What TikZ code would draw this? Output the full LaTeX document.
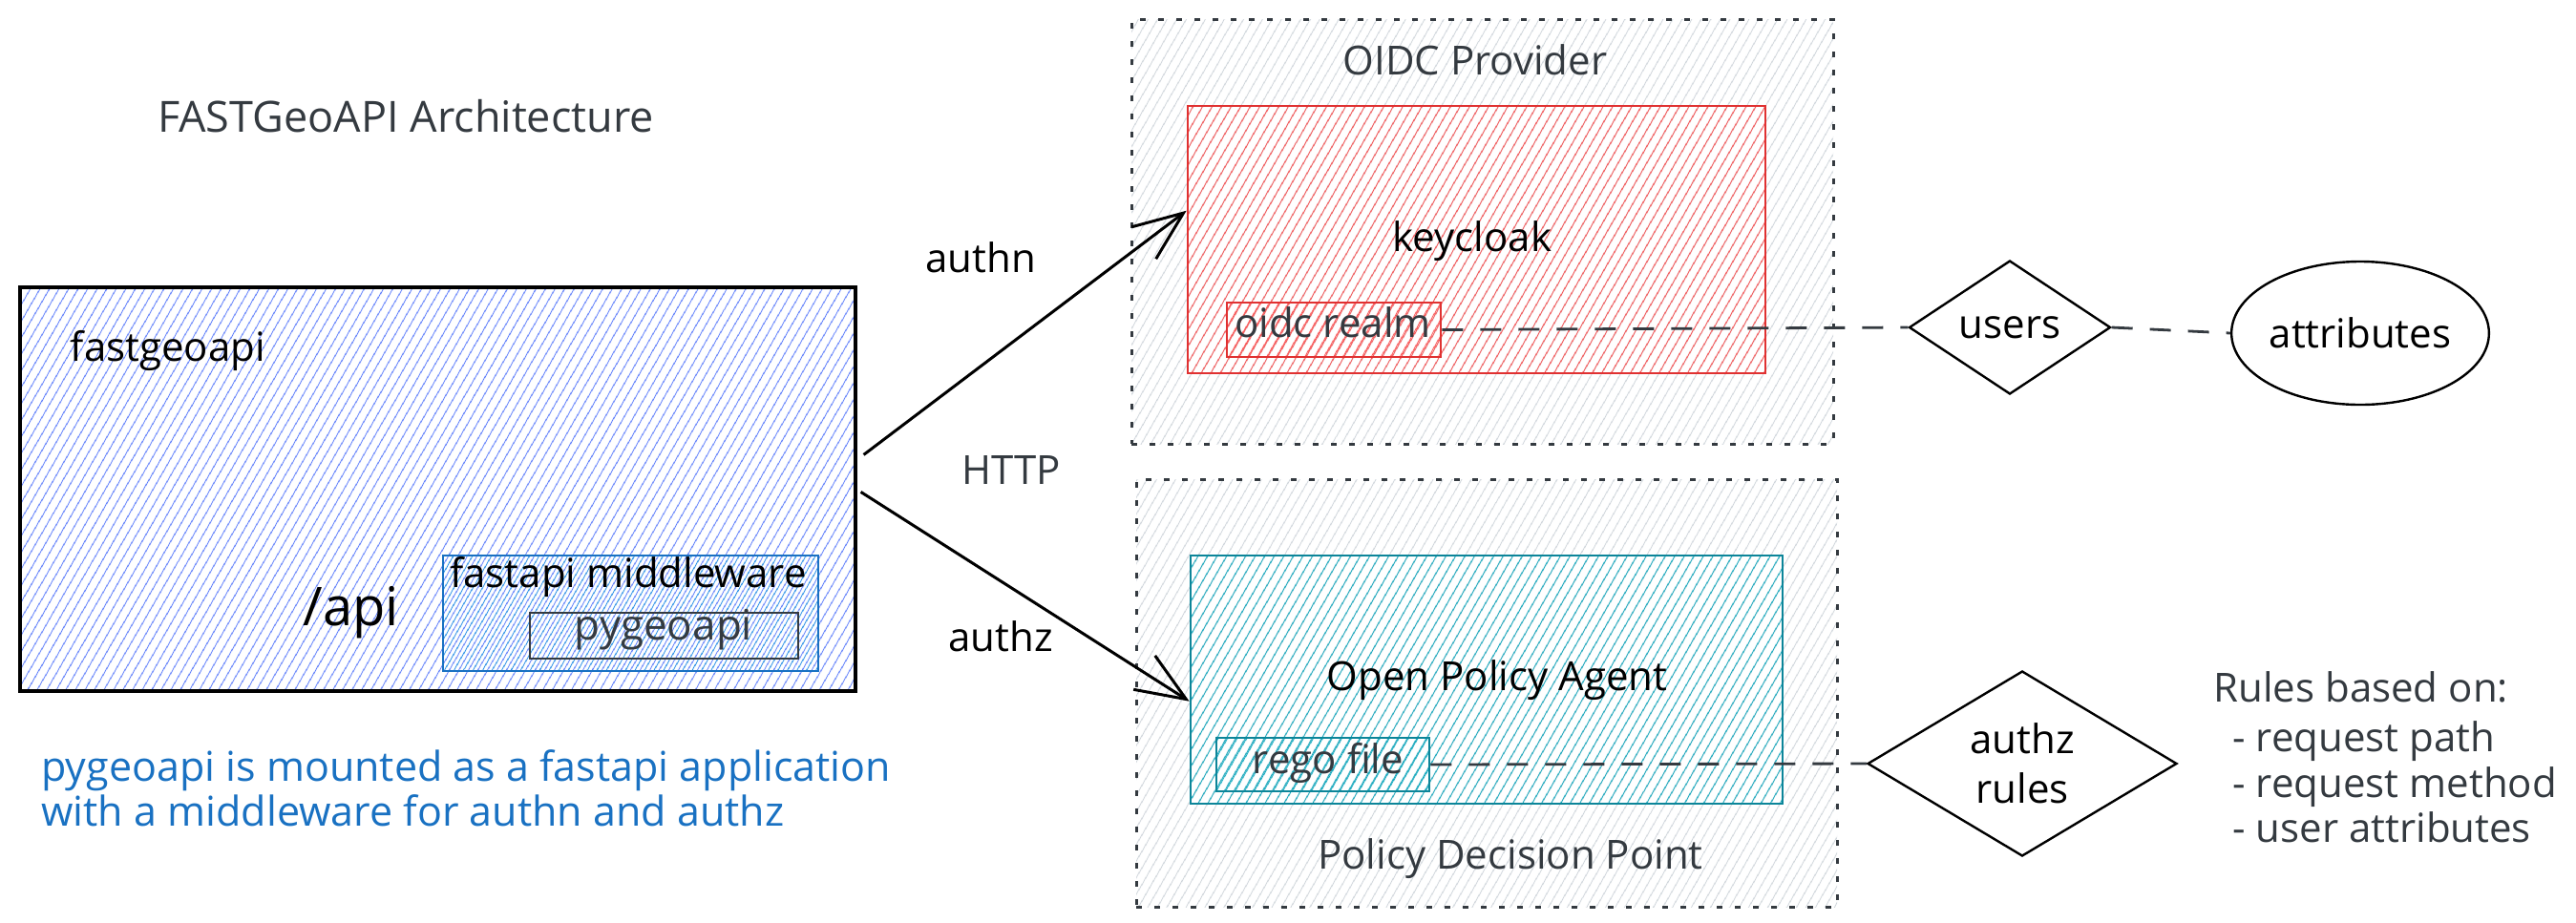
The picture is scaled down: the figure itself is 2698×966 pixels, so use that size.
\documentclass[tikz,border=0pt]{standalone}
\usepackage{fontspec}
\setmainfont{Open Sans}
\usetikzlibrary{patterns.meta,arrows.meta,fit,shapes.geometric,calc}
\definecolor{dgray}{HTML}{343A40}
\definecolor{indigoh}{HTML}{5C7CFA}
\definecolor{blues}{HTML}{1971C2}
\definecolor{blueh}{HTML}{228BE6}
\definecolor{grayh}{HTML}{CED4DA}
\definecolor{reds}{HTML}{E03131}
\definecolor{redh}{HTML}{FA5252}
\definecolor{teals}{HTML}{0C8599}
\definecolor{tealh}{HTML}{15AABF}
\begin{document}
\begin{tikzpicture}[x=0.5pt,y=-0.5pt,
  hatch/.style={pattern={Lines[angle=60,distance=4pt,line width=0.55pt]},pattern color=#1},
  box/.style={inner sep=0pt,line width=1.3pt},
  dotbox/.style={box,draw=dgray,line width=1.5pt,dash pattern=on 3pt off 6.5pt,hatch=grayh},
  lbl/.style={font=\fontsize{21}{25}\selectfont,text=black,inner sep=0pt,anchor=base},
  glbl/.style={lbl,text=dgray},
  conn/.style={draw=dgray,line width=1.4pt,dash pattern=on 11pt off 9pt},
  arr/.style={draw=black,line width=1.5pt,-{Straight Barb[length=26pt,width=21pt,line width=1.5pt]}},
  shp/.style={draw=black,line width=1.2pt,inner sep=0pt,font=\fontsize{21}{26}\selectfont,align=center},
]
\useasboundingbox (0,0) rectangle (2698,966);
% outer groups
\node[dotbox,fit={(1185,20)(1920,465)}] (oidc) {};
\node[dotbox,fit={(1190,502)(1924,950)}] (pdp) {};
% main boxes
\node[box,draw=black,line width=1.6pt,hatch=indigoh,fit={(21,301)(896,724)}] (fga) {};
\node[box,draw=blues,hatch=blueh,fit={(464,582)(857,703)}] (mw) {};
\node[box,draw=dgray,fit={(555,642)(836,690)}] (pyg) {};
\node[box,draw=reds,hatch=redh,fit={(1244,111)(1849,391)}] (kc) {};
\node[box,draw=reds,hatch=redh,fit={(1285,317)(1509,374)}] (realm) {};
\node[box,draw=teals,hatch=tealh,fit={(1247,582)(1867,842)}] (opa) {};
\node[box,draw=teals,hatch=tealh,fit={(1274,773)(1497,829)}] (rego) {};
% shapes on the right
\node[shp,diamond,minimum width=105.5pt,minimum height=70pt] (users) at (2105,343) {users};
\node[shp,ellipse,minimum width=128pt,minimum height=75pt] (attr) at (2472,349) {attributes};
\node[shp,diamond,minimum width=162pt,minimum height=97pt] (rules) at (2118,800) {authz\\rules};
% texts
\node[glbl,font=\fontsize{22.5}{26}\selectfont] (title) at (425,138) {FASTGeoAPI Architecture};
\node[lbl] (tfga) at (176,378) {fastgeoapi};
\node[lbl,font=\fontsize{28}{32}\selectfont] (tapi) at (368,655) {/api};
\node[lbl] (tmw) at (658,615) {fastapi middleware};
\node[glbl,font=\fontsize{22}{26}\selectfont] (tpyg) at (695,670) {pygeoapi};
\node[lbl,text=blues,anchor=base west,font=\fontsize{21.5}{25}\selectfont] (note1) at (43,818) {pygeoapi is mounted as a fastapi application};
\node[lbl,text=blues,anchor=base west,font=\fontsize{21.5}{25}\selectfont] (note2) at (43,865) {with a middleware for authn and authz};
\node[glbl] (toidc) at (1545,78) {OIDC Provider};
\node[lbl] (tkc) at (1542,263) {keycloak};
\node[glbl] (trealm) at (1396,353) {oidc realm};
\node[lbl] (topa) at (1568,723) {Open Policy Agent};
\node[glbl] (trego) at (1391,810) {rego file};
\node[glbl] (tpdp) at (1582,910) {Policy Decision Point};
\node[lbl] (tauthn) at (1027,285) {authn};
\node[glbl] (thttp) at (1059,507) {HTTP};
\node[lbl] (tauthz) at (1048,682) {authz};
\node[glbl,anchor=base west] (r0) at (2318,735) {Rules based on:};
\node[glbl,anchor=base west] (r1) at (2338,787) {- request path};
\node[glbl,anchor=base west] (r2) at (2338,835) {- request method};
\node[glbl,anchor=base west] (r3) at (2338,882) {- user attributes};
% connectors
\draw[conn] (realm.east) -- (users.west);
\draw[conn] (users.east) -- (attr.west);
\draw[conn] (rego.east) -- (rules.west);
\draw[arr] ($(fga.north east)+(7,177)$) -- ($(kc.north west)+(0,111)$);
\draw[arr] ($(fga.north east)+(4,216)$) -- ($(opa.north west)+(0,154)$);
\end{tikzpicture}
\end{document}
